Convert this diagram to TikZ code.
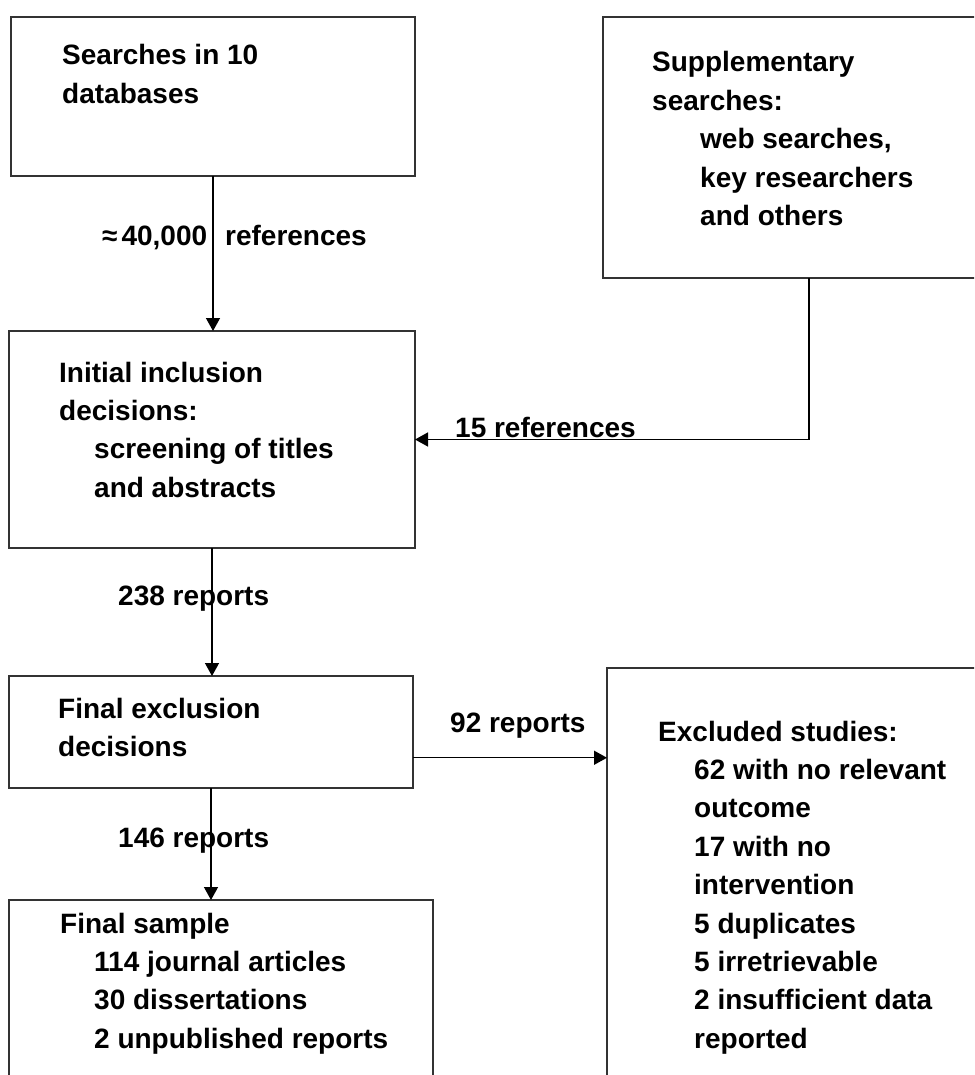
\documentclass[tikz,border=0pt]{standalone}
\usepackage{fontspec}
\setmainfont{Liberation Sans}
\usetikzlibrary{arrows.meta,calc}
\newcommand\mystack[1]{\vtop{\baselineskip=38.4pt\lineskiplimit=-50pt\lineskip=0pt #1}}
\begin{document}
\begin{tikzpicture}[x=1pt,y=-1pt,
  box/.style={draw=black!80,line width=1.6pt,rectangle,inner sep=0pt,outer sep=0pt,anchor=north west},
  txt/.style={anchor=base west,inner sep=0pt,font=\fontsize{28}{38.4}\selectfont\bfseries},
  arr/.style={draw=black,line width=1.4pt,-{Triangle[length=13pt,width=14pt]}}]
\clip (0,0) rectangle (974,1075);
\fill[white] (0,0) rectangle (974,1075);
% boxes
\node[box,minimum width=404pt,minimum height=159pt] (b1) at (11,17) {};
\node[box,minimum width=412pt,minimum height=261pt] (supp) at (603,17) {};
\node[box,minimum width=406pt,minimum height=217pt] (b2) at (9,331) {};
\node[box,minimum width=404pt,minimum height=112pt] (b3) at (9,676) {};
\node[box,minimum width=424pt,minimum height=220pt] (fs) at (9,900) {};
\node[box,minimum width=420pt,minimum height=460pt] (ex) at (607,668) {};
% box texts
\node[txt] (t1) at (62,65) {\mystack{\hbox{Searches in 10}\hbox{databases}}};
\node[txt] (tsupp) at (652,72) {\mystack{\hbox{Supplementary}\hbox{searches:}\hbox{\kern48pt web searches,}\hbox{\kern48pt key researchers}\hbox{\kern48pt and others}}};
\node[txt] (t2) at (59,382) {\mystack{\hbox{Initial inclusion}\hbox{decisions:}\hbox{\kern35pt screening of titles}\hbox{\kern35pt and abstracts}}};
\node[txt] (t3) at (58,718) {\mystack{\hbox{Final exclusion}\hbox{decisions}}};
\node[txt] (tfs) at (60,933) {\mystack{\hbox{Final sample}\hbox{\kern34pt 114 journal articles}\hbox{\kern34pt 30 dissertations}\hbox{\kern34pt 2 unpublished reports}}};
\node[txt] (tex) at (658,741) {\mystack{\hbox{Excluded studies:}\hbox{\kern36pt 62 with no relevant}\hbox{\kern36pt outcome}\hbox{\kern36pt 17 with no}\hbox{\kern36pt intervention}\hbox{\kern36pt 5 duplicates}\hbox{\kern36pt 5 irretrievable}\hbox{\kern36pt 2 insufficient data}\hbox{\kern36pt reported}}};
% connectors
\draw[arr] (b1.south) -- (b1.south |- b2.north);
\draw[arr] (supp.south) |- (b2.east);
\draw[arr] (b2.south) -- (b2.south |- b3.north);
\draw[arr] (b3.south) -- (b3.south |- fs.north);
\coordinate (c92) at ($(b3.north east)!0.73!(b3.south east)$);
\draw[arr] (c92) -- (c92 -| ex.west);
% labels
\node[txt] (l1) at (102,245) {≈\kern4pt 40,000\kern18pt references};
\node[txt] (l2) at (455,437) {15 references};
\node[txt] (l3) at (118,605) {238 reports};
\node[txt] (l4) at (450,732) {92 reports};
\node[txt] (l5) at (118,847) {146 reports};
\end{tikzpicture}
\end{document}
